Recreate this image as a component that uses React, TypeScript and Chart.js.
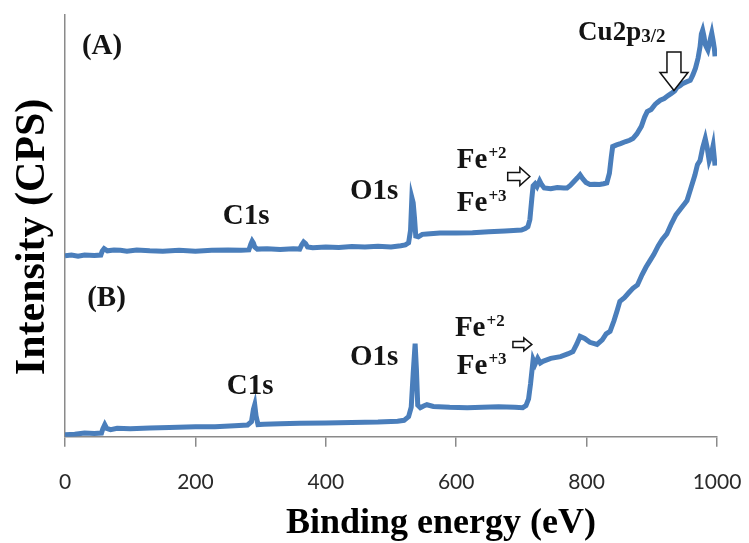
import React, { useEffect, useRef } from "react";
import { Chart, registerables } from "chart.js";

Chart.register(...registerables);

// ---- Data (binding energy in eV, intensity in arbitrary CPS units) ----
const energyA = [
  0, 10, 20, 30, 45, 55, 57, 60, 65, 75, 85, 95, 110, 130, 150, 175, 200, 225, 250, 270,
  282, 285, 287, 289, 291, 295, 310, 330, 350, 360, 363, 366, 369, 372, 380, 400, 420, 440,
  460, 480, 500, 515, 522, 527, 530, 532, 534, 536, 538, 542, 548, 555, 575, 600, 625, 650,
  675, 700, 706, 710, 713, 716, 718, 721, 724, 728, 731, 735, 745, 755, 765, 770, 775, 781,
  786, 790, 794, 799, 805, 812, 820, 826, 831, 835, 838, 840, 846, 852, 860, 866, 871, 877,
  884, 889, 893, 899, 905, 909, 913, 919, 925, 930, 935, 939, 943, 948, 954, 959, 963, 967,
  971, 974, 976, 978, 980, 982, 984, 986, 988, 990, 992, 994, 996, 997,
];
const intensityA = [
  42.9, 43.1, 42.8, 43.1, 43.0, 43.1, 44.0, 44.6, 44.1, 44.3, 44.2, 44.0, 44.3, 44.1, 44.0, 44.2, 44.0, 44.2, 44.3, 44.2,
  44.3, 45.7, 46.4, 45.9, 45.0, 44.5, 44.6, 44.4, 44.6, 44.5, 45.5, 46.2, 45.8, 45.0, 44.8, 45.0, 44.9, 45.1,
  45.0, 45.2, 45.0, 45.3, 45.5, 46.0, 49.0, 56.7, 55.5, 52.0, 47.6, 47.4, 48.0, 48.1, 48.3, 48.3, 48.4, 48.6,
  48.8, 49.0, 49.4, 49.8, 51.5, 56.5, 59.5, 60.0, 59.3, 60.7, 59.8, 59.0, 58.8, 59.1, 59.0, 59.0, 59.6, 60.6,
  61.4, 62.1, 61.2, 60.3, 59.8, 59.9, 59.8, 60.0, 60.2, 62.5, 66.5, 68.8, 69.2, 69.5, 70.0, 70.3, 70.7, 71.8,
  73.6, 75.8, 77.1, 77.6, 78.8, 79.3, 79.8, 80.2, 80.9, 81.4, 82.0, 82.9, 83.2, 83.8, 84.2, 84.5, 85.8, 87.4,
  89.8, 92.5, 95.5, 96.4, 95.0, 93.0, 92.3, 91.7, 93.0, 94.4, 95.7, 94.0, 92.0, 90.2,
];

const energyB = [
  0, 15, 30, 45, 56, 58, 61, 64, 70, 80, 100, 130, 160, 200, 230, 260, 280, 286, 289, 291,
  293, 296, 305, 330, 360, 400, 440, 480, 510, 520, 527, 531, 534, 537, 539, 541, 545, 550,
  555, 565, 590, 617, 640, 665, 690, 702, 707, 711, 714, 718, 721, 725, 729, 733, 745, 760,
  772, 779, 785, 790, 797, 805, 816, 824, 830, 836, 842, 847, 851, 858, 865, 871, 878, 885,
  891, 897, 903, 910, 916, 923, 930, 937, 944, 950, 954, 960, 966, 970, 974, 978, 982, 985,
  988, 991, 994, 997,
];
const intensityB = [
  0.5, 0.6, 0.9, 0.8, 0.9, 1.9, 2.9, 2.0, 1.7, 2.0, 1.9, 2.1, 2.2, 2.4, 2.4, 2.6, 2.8, 3.6, 6.5, 7.6,
  5.0, 2.9, 3.0, 3.1, 3.2, 3.3, 3.4, 3.5, 3.7, 3.9, 4.8, 7.0, 15.0, 22.1, 16.0, 7.5, 6.9, 7.3,
  7.6, 7.2, 7.0, 6.9, 7.0, 7.1, 7.0, 6.9, 7.4, 9.0, 12.5, 18.3, 17.2, 18.6, 17.5, 17.9, 18.6, 19.0,
  19.7, 20.2, 22.0, 23.8, 23.3, 22.4, 21.9, 23.0, 24.4, 25.0, 27.5, 30.0, 32.1, 33.0, 34.2, 35.2, 36.0, 38.4,
  40.2, 41.7, 43.2, 45.3, 46.8, 48.1, 50.5, 52.6, 54.0, 55.2, 56.0, 59.0, 62.0, 64.5, 65.5, 68.5, 70.7, 68.5,
  65.5, 66.8, 69.0, 64.3,
];

const xTickValues = [0, 200, 400, 600, 800, 1000];
const xTitle = "Binding energy (eV)";
const yTitle = "Intensity (CPS)";

// ---- Annotations (anchored in data coordinates) ----
type Label = { text: string; x: number; y: number; sup?: string; sub?: string };
const peakLabels: Label[] = [
  { text: "(A)", x: 26, y: 90.7 },
  { text: "C1s", x: 242, y: 50.5 },
  { text: "O1s", x: 437, y: 56.4 },
  { text: "Fe", sup: "+2", x: 601, y: 63.8 },
  { text: "Fe", sup: "+3", x: 601, y: 53.6 },
  { text: "Cu2p", sub: "3/2", x: 787, y: 94.0 },
  { text: "(B)", x: 34, y: 31.0 },
  { text: "C1s", x: 248, y: 10.2 },
  { text: "O1s", x: 437, y: 17.1 },
  { text: "Fe", sup: "+2", x: 598, y: 24.0 },
  { text: "Fe", sup: "+3", x: 601, y: 14.8 },
];
const rightArrows = [
  { x0: 679, x1: 713, y: 61.7, head: 9, shaft: 4, len: 10 },
  { x0: 687, x1: 716, y: 21.9, head: 6.5, shaft: 3, len: 8 },
];
const downArrows = [{ x: 934, y0: 91.2, y1: 82.1, head: 14, shaft: 7, len: 18 }];

const LINE_COLOR = "#4a7ebb";
const AXIS_COLOR = "#8a8a8a";
const SERIF = '"Liberation Serif", "Times New Roman", serif';

const annotationPlugin = {
  id: "xpsAnnotations",
  afterDraw(chart: any) {
    const { ctx, scales, chartArea } = chart;
    const xs = scales.x;
    const ys = scales.y;
    ctx.save();
    ctx.fillStyle = "#141414";
    ctx.textBaseline = "alphabetic";
    ctx.textAlign = "left";

    for (const l of peakLabels) {
      const px = xs.getPixelForValue(l.x);
      const py = ys.getPixelForValue(l.y);
      if (l.sub) {
        ctx.font = `bold 27px ${SERIF}`;
        ctx.fillText(l.text, px, py);
        const w = ctx.measureText(l.text).width;
        ctx.font = `bold 19px ${SERIF}`;
        ctx.fillText(l.sub, px + w, py + 2);
      } else if (l.sup) {
        ctx.font = `bold 29px ${SERIF}`;
        ctx.fillText(l.text, px, py);
        const w = ctx.measureText(l.text).width;
        ctx.font = `bold 17px ${SERIF}`;
        ctx.fillText(l.sup, px + w + 1, py - 10);
      } else {
        ctx.font = `bold 29px ${SERIF}`;
        ctx.fillText(l.text, px, py);
      }
    }

    ctx.strokeStyle = "#111";
    ctx.lineWidth = 1.5;
    ctx.lineJoin = "miter";
    for (const a of rightArrows) {
      const L = xs.getPixelForValue(a.x0);
      const R = xs.getPixelForValue(a.x1);
      const cy = ys.getPixelForValue(a.y);
      ctx.beginPath();
      ctx.moveTo(L, cy - a.shaft);
      ctx.lineTo(R - a.len, cy - a.shaft);
      ctx.lineTo(R - a.len, cy - a.head);
      ctx.lineTo(R, cy);
      ctx.lineTo(R - a.len, cy + a.head);
      ctx.lineTo(R - a.len, cy + a.shaft);
      ctx.lineTo(L, cy + a.shaft);
      ctx.closePath();
      ctx.fillStyle = "#fff";
      ctx.fill();
      ctx.stroke();
    }
    for (const a of downArrows) {
      const cx = xs.getPixelForValue(a.x);
      const T = ys.getPixelForValue(a.y0);
      const B = ys.getPixelForValue(a.y1);
      ctx.beginPath();
      ctx.moveTo(cx - a.shaft, T);
      ctx.lineTo(cx + a.shaft, T);
      ctx.lineTo(cx + a.shaft, B - a.len);
      ctx.lineTo(cx + a.head, B - a.len);
      ctx.lineTo(cx, B);
      ctx.lineTo(cx - a.head, B - a.len);
      ctx.lineTo(cx - a.shaft, B - a.len);
      ctx.closePath();
      ctx.fillStyle = "#fff";
      ctx.fill();
      ctx.stroke();
    }

    // axis titles
    ctx.fillStyle = "#000";
    ctx.font = `bold 36px ${SERIF}`;
    ctx.textAlign = "center";
    ctx.fillText(xTitle, (chartArea.left + chartArea.right) / 2 + 50, chart.height - 10);

    ctx.save();
    ctx.translate(chartArea.left - 21, (chartArea.top + chartArea.bottom) / 2 + 11);
    ctx.rotate(-Math.PI / 2);
    ctx.font = `bold 42px ${SERIF}`;
    ctx.textAlign = "center";
    ctx.fillText(yTitle, 0, 0);
    ctx.restore();

    ctx.restore();
  },
};

export default function App() {
  const canvasRef = useRef<HTMLCanvasElement | null>(null);

  useEffect(() => {
    document.body.style.margin = "0";
    const canvas = canvasRef.current;
    if (!canvas) return;
    const chart = new Chart(canvas, {
      type: "line",
      data: {
        datasets: [
          {
            label: "A",
            data: energyA.map((e, i) => ({ x: e, y: intensityA[i] })),
            borderColor: LINE_COLOR,
            borderWidth: 5,
            pointRadius: 0,
            tension: 0,
            fill: false,
          },
          {
            label: "B",
            data: energyB.map((e, i) => ({ x: e, y: intensityB[i] })),
            borderColor: LINE_COLOR,
            borderWidth: 5,
            pointRadius: 0,
            tension: 0,
            fill: false,
          },
        ],
      },
      options: {
        animation: false,
        responsive: false,
        devicePixelRatio: 1,
        layout: { padding: { left: 65, right: 32, top: 15, bottom: 25 } },
        plugins: { legend: { display: false }, tooltip: { enabled: false } },
        scales: {
          x: {
            type: "linear",
            min: 0,
            max: 1000,
            afterBuildTicks: (axis: any) => {
              axis.ticks = xTickValues.map((v) => ({ value: v }));
            },
            afterFit: (axis: any) => {
              axis.paddingLeft = 0;
              axis.paddingRight = 0;
            },
            ticks: {
              callback: (v: any) => String(v),
              font: { family: "Lato, Carlito, sans-serif", size: 21 },
              color: "#2a2a2a",
              padding: 23,
              maxRotation: 0,
              autoSkip: false,
            },
            grid: {
              display: true,
              drawOnChartArea: false,
              drawTicks: true,
              tickLength: 10,
              color: AXIS_COLOR,
              lineWidth: 1.5,
            },
            border: { display: true, color: AXIS_COLOR, width: 1.5 },
          },
          y: {
            type: "linear",
            min: 0,
            max: 100,
            ticks: { display: false },
            grid: { display: false, drawTicks: false },
            border: { display: true, color: AXIS_COLOR, width: 1.5 },
          },
        },
      },
      plugins: [annotationPlugin],
    });
    return () => chart.destroy();
  }, []);

  return (
    <div style={{ width: 749, height: 543, background: "#fff" }}>
      <canvas ref={canvasRef} width={749} height={543} style={{ display: "block" }} />
    </div>
  );
}
